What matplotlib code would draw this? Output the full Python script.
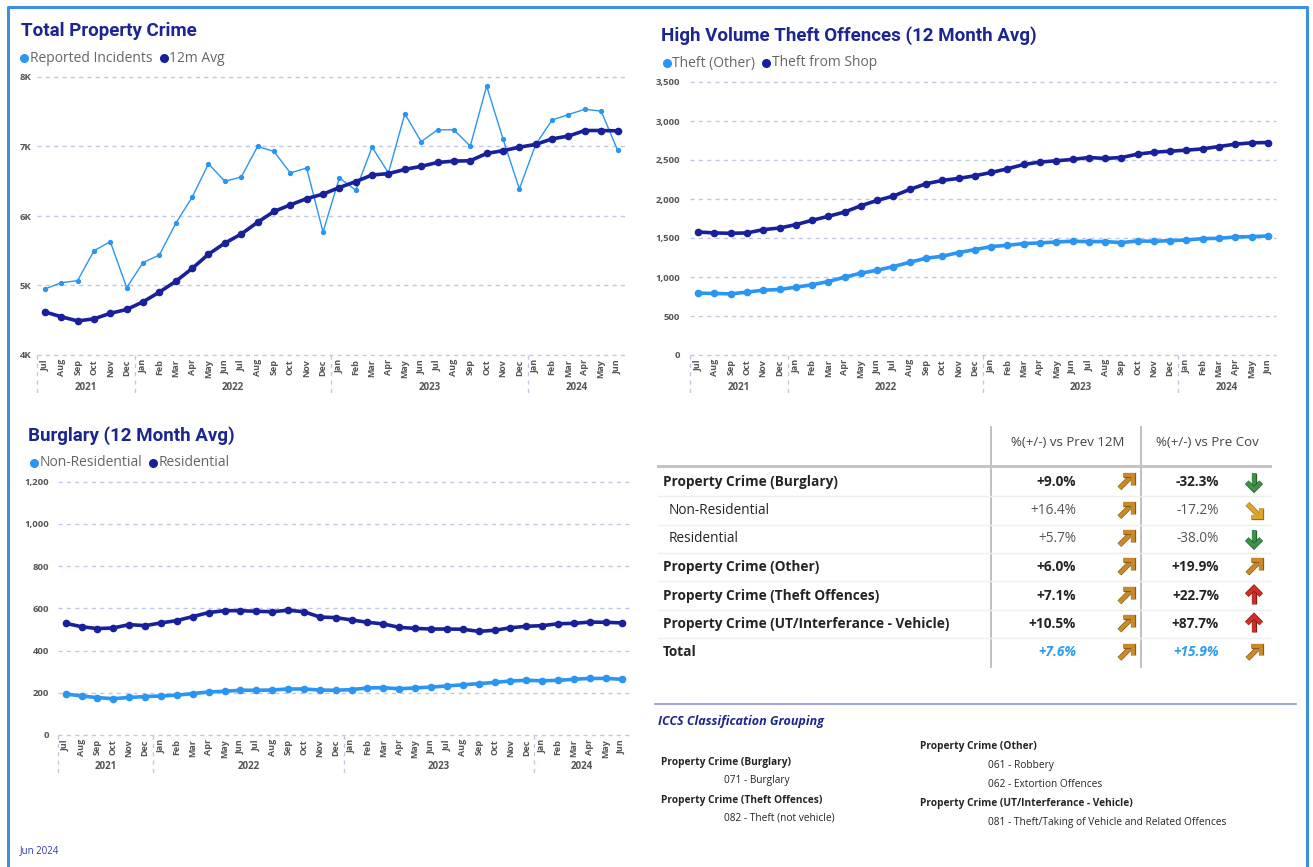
import matplotlib
matplotlib.use("Agg")
import matplotlib.pyplot as plt
from matplotlib.lines import Line2D
from matplotlib.transforms import blended_transform_factory
import matplotlib.patheffects as pe

# ---- data ----
months = ["Jul", "Aug", "Sep", "Oct", "Nov", "Dec",
          "Jan", "Feb", "Mar", "Apr", "May", "Jun", "Jul", "Aug", "Sep", "Oct", "Nov", "Dec",
          "Jan", "Feb", "Mar", "Apr", "May", "Jun", "Jul", "Aug", "Sep", "Oct", "Nov", "Dec",
          "Jan", "Feb", "Mar", "Apr", "May", "Jun"]
years = ["2021", "2022", "2023", "2024"]
year_start = [0, 6, 18, 30]
year_end = [5, 17, 29, 35]

reported = [4950, 5040, 5070, 5500, 5630, 4970, 5330, 5440, 5895, 6270, 6750, 6500,
            6560, 7000, 6930, 6620, 6690, 5770, 6550, 6370, 6990, 6620, 7470, 7070,
            7240, 7240, 7005, 7870, 7110, 6390, 7030, 7380, 7460, 7535, 7510, 6950]
avg12 = [4620, 4550, 4490, 4520, 4600, 4655, 4765, 4905, 5060, 5245, 5450, 5610,
         5740, 5910, 6065, 6160, 6250, 6315, 6410, 6495, 6590, 6610, 6670, 6715,
         6770, 6790, 6795, 6900, 6940, 6990, 7030, 7110, 7150, 7230, 7230, 7225]

theft_other = [793, 789, 784, 806, 831, 840, 870, 900, 942, 998, 1049, 1087,
               1134, 1189, 1241, 1266, 1313, 1351, 1390, 1407, 1428, 1437, 1449, 1458,
               1454, 1454, 1441, 1462, 1458, 1466, 1475, 1492, 1496, 1513, 1518, 1526]
theft_shop = [1577, 1565, 1560, 1565, 1607, 1628, 1671, 1727, 1778, 1833, 1914, 1982,
              2038, 2123, 2195, 2238, 2264, 2298, 2340, 2387, 2443, 2473, 2490, 2507,
              2532, 2520, 2532, 2575, 2600, 2613, 2626, 2643, 2673, 2703, 2720, 2724]

non_res = [194, 185, 177, 172, 178, 182, 185, 189, 196, 204, 207, 212,
           212, 213, 218, 218, 213, 212, 215, 223, 224, 219, 223, 227,
           232, 238, 243, 249, 256, 259, 257, 259, 264, 268, 268, 264]
res = [529, 513, 504, 507, 523, 518, 531, 542, 561, 580, 589, 589,
       586, 584, 591, 584, 559, 556, 545, 534, 526, 510, 505, 502,
       502, 501, 491, 496, 508, 515, 518, 527, 529, 535, 534, 531]

row_labels = ["Property Crime (Burglary)", "Non-Residential", "Residential",
              "Property Crime (Other)", "Property Crime (Theft Offences)",
              "Property Crime (UT/Interferance - Vehicle)", "Total"]
row_bold = [True, False, False, True, True, True, True]
vs_prev = ["+9.0%", "+16.4%", "+5.7%", "+6.0%", "+7.1%", "+10.5%", "+7.6%"]
vs_precov = ["-32.3%", "-17.2%", "-38.0%", "+19.9%", "+22.7%", "+87.7%", "+15.9%"]
prev_icon = ["ne", "ne", "ne", "ne", "ne", "ne", "ne"]
precov_icon = ["down", "se", "down", "ne", "up", "up", "ne"]

# ---- styling ----
W, H = 1313, 867
LIGHT = "#2b95f2"
DARK = "#19219a"
TITLE = "#1c2690"
GRID = "#c3c6ec"
TICK = "#555555"
TITLE_FONT = ["Roboto", "DejaVu Sans"]
UI_FONT = ["Open Sans", "DejaVu Sans"]

fig = plt.figure(figsize=(W / 100, H / 100), dpi=100, facecolor="white")


def fx(x):
    return x / W


def fy(y):
    return 1 - y / H


def add_axes(left, right, top, bottom):
    return fig.add_axes([fx(left), fy(bottom), fx(right - left), (bottom - top) / H])


def style_axes(ax, yticks, ylabels, pad, sep_depth, year_y):
    ax.set_xlim(-0.5, 35.5)
    ax.set_ylim(yticks[0], yticks[-1])
    for s in ax.spines.values():
        s.set_visible(False)
    for t in yticks:
        ax.axhline(t, color=GRID, lw=1.0, ls=(0, (3, 3)), clip_on=False, zorder=0)
    ax.set_yticks(yticks)
    ax.set_yticklabels(ylabels, fontsize=6.8, fontweight="bold", color=TICK, family=UI_FONT)
    ax.tick_params(axis="y", length=0, pad=pad)
    ax.set_xticks(range(36))
    ax.set_xticklabels(months, rotation=90, fontsize=6.5, fontweight="bold", color=TICK,
                       family=UI_FONT)
    ax.tick_params(axis="x", length=0, pad=3)
    tr = blended_transform_factory(ax.transData, ax.transAxes)
    for s in [-0.5, 5.5, 17.5, 29.5]:
        ax.plot([s, s], [0, -sep_depth], color=GRID, lw=1.0, ls=(0, (3, 3)),
                transform=tr, clip_on=False)
    for yname, a, b in zip(years, year_start, year_end):
        ax.text((a + b) / 2, -year_y, yname, transform=tr, ha="center", va="center",
                fontsize=7, fontweight="bold", color=TICK, family=UI_FONT)


def legend(items):
    for x, y, c, label in items:
        fig.add_artist(Line2D([fx(x)], [fy(y)], marker="o", ms=5.5, color=c,
                              transform=fig.transFigure))
        fig.text(fx(x + 5.5), fy(y), label, fontsize=10, color="#666666", va="center",
                 ha="left", family=UI_FONT)


# arrow shapes in pixel offsets (x right, y down): stem, head
ARROWS = {
    "ne": ([(-5.5, 5.5), (5, -5)], [(-2.5, -5.5), (5.5, -5.5), (5.5, 2.5)]),
    "se": ([(-5.5, -5.5), (5, 5)], [(5.5, -2.5), (5.5, 5.5), (-2.5, 5.5)]),
    "down": ([(0, -7), (0, 6)], [(-6, 0.5), (0, 6.5), (6, 0.5)]),
    "up": ([(0, 7), (0, -6)], [(-6, -0.5), (0, -6.5), (6, -0.5)]),
}
ICON_COLORS = {"ne": ("#c98a2a", "#8a5c16"), "se": ("#e0a52e", "#a07018"),
               "down": ("#3f9048", "#245c2a"), "up": ("#cc3028", "#7e1a14")}
ICON_SCALE = 1.2


def draw_icon(cx, cy, key):
    c, edge = ICON_COLORS[key]
    for part in ARROWS[key]:
        xs = [fx(cx + dx * ICON_SCALE) for dx, dy in part]
        ys = [fy(cy + dy * ICON_SCALE) for dx, dy in part]
        fig.add_artist(Line2D(xs, ys, color=c, lw=2.8, solid_capstyle="butt",
                              solid_joinstyle="miter", transform=fig.transFigure,
                              path_effects=[pe.Stroke(linewidth=3.8, foreground=edge),
                                            pe.Normal()]))


# ---- border ----
fig.add_artist(Line2D([fx(8), fx(8), fx(1307), fx(1307)], [fy(870), fy(7), fy(7), fy(870)],
                      color="#3f8fe0", lw=2.2, transform=fig.transFigure))

# ---- chart 1: Total Property Crime ----
ax1 = add_axes(36.7, 625.7, 77, 355)
ax1.plot(range(36), reported, color=LIGHT, lw=1.0, marker="o", ms=2.8, zorder=3)
ax1.plot(range(36), avg12, color=DARK, lw=2.6, marker="o", ms=4.5, zorder=4)
style_axes(ax1, [4000, 5000, 6000, 7000, 8000], ["4K", "5K", "6K", "7K", "8K"],
           4, 40 / 278, 32 / 278)
fig.text(fx(21), fy(31), "Total Property Crime", fontsize=13.5, fontweight="bold",
         color=TITLE, va="center", family=TITLE_FONT)
legend([(24, 58, LIGHT, "Reported Incidents"), (164, 58, DARK, "12m Avg")])

# ---- chart 2: High Volume Theft ----
ax2 = add_axes(690, 1276, 82, 355)
ax2.plot(range(36), theft_other, color=LIGHT, lw=2.6, marker="o", ms=4.5, zorder=3)
ax2.plot(range(36), theft_shop, color=DARK, lw=2.6, marker="o", ms=4.5, zorder=4)
t2 = [0, 500, 1000, 1500, 2000, 2500, 3000, 3500]
style_axes(ax2, t2, [f"{v:,}" for v in t2], 7, 40 / 273, 32 / 273)
fig.text(fx(661), fy(36), "High Volume Theft Offences (12 Month Avg)", fontsize=13.5,
         fontweight="bold", color=TITLE, va="center", family=TITLE_FONT)
legend([(667, 63, LIGHT, "Theft (Other)"), (766, 63, DARK, "Theft from Shop")])

# ---- chart 3: Burglary ----
ax3 = add_axes(57.7, 629.6, 481.7, 735)
ax3.plot(range(36), non_res, color=LIGHT, lw=2.6, marker="o", ms=4.5, zorder=3)
ax3.plot(range(36), res, color=DARK, lw=2.6, marker="o", ms=4.5, zorder=4)
t3 = [0, 200, 400, 600, 800, 1000, 1200]
style_axes(ax3, t3, [f"{v:,}" for v in t3], 6, 39 / 253, 31.7 / 253)
fig.text(fx(28), fy(436), "Burglary (12 Month Avg)", fontsize=13.5, fontweight="bold",
         color=TITLE, va="center", family=TITLE_FONT)
legend([(34, 463, LIGHT, "Non-Residential"), (153, 463, DARK, "Residential")])

# ---- table ----
fig.text(fx(1068), fy(443), "%(+/-) vs Prev 12M", fontsize=9.5, color="#444444",
         ha="center", va="center", family=UI_FONT)
fig.text(fx(1207), fy(443), "%(+/-) vs Pre Cov", fontsize=9.5, color="#444444",
         ha="center", va="center", family=UI_FONT)
for xv in [991, 1141]:
    fig.add_artist(Line2D([fx(xv), fx(xv)], [fy(427), fy(667)], color="#b5b5b5", lw=1.2,
                          transform=fig.transFigure))
fig.add_artist(Line2D([fx(658), fx(1270)], [fy(466), fy(466)], color="#c4c4c4", lw=2.2,
                      transform=fig.transFigure))

row_y = [481.7, 510.5, 538.5, 567, 595.7, 624, 652.3]
for i, y in enumerate(row_y):
    bold = "bold" if row_bold[i] else "normal"
    lx = 663 if row_bold[i] else 669
    fig.text(fx(lx), fy(y), row_labels[i], fontsize=9.8, fontweight=bold,
             color="#252423", va="center", family=UI_FONT)
    is_total = row_labels[i] == "Total"
    vc = "#2d9bf0" if is_total else ("#252423" if row_bold[i] else "#555555")
    style = "italic" if is_total else "normal"
    fig.text(fx(1076), fy(y), vs_prev[i], fontsize=9.8, fontweight=bold, color=vc,
             ha="right", va="center", style=style, family=UI_FONT)
    fig.text(fx(1219), fy(y), vs_precov[i], fontsize=9.8, fontweight=bold, color=vc,
             ha="right", va="center", style=style, family=UI_FONT)
    draw_icon(1126, y, prev_icon[i])
    draw_icon(1254, y, precov_icon[i])
    if i < len(row_y) - 1:
        ys = (y + row_y[i + 1]) / 2
        fig.add_artist(Line2D([fx(658), fx(1270)], [fy(ys), fy(ys)], color="#eeeeee",
                              lw=1.0, transform=fig.transFigure))

# ---- ICCS grouping ----
fig.add_artist(Line2D([fx(655), fx(1296)], [fy(704), fy(704)], color="#8d92e2", lw=1.2,
                      transform=fig.transFigure))
fig.text(fx(658), fy(721), "ICCS Classification Grouping", fontsize=9,
         fontweight="bold", style="italic", color=TITLE, va="center", family=UI_FONT)
iccs_left = [(661, 762.5, "Property Crime (Burglary)", True),
             (724, 781, "071 - Burglary", False),
             (661, 800, "Property Crime (Theft Offences)", True),
             (724, 818.5, "082 - Theft (not vehicle)", False)]
iccs_right = [(920, 746.5, "Property Crime (Other)", True),
              (988, 765.5, "061 - Robbery", False),
              (988, 784.5, "062 - Extortion Offences", False),
              (920, 803.5, "Property Crime (UT/Interferance - Vehicle)", True),
              (988, 822.5, "081 - Theft/Taking of Vehicle and Related Offences", False)]
for x, y, s, b in iccs_left + iccs_right:
    fig.text(fx(x), fy(y), s, fontsize=7.3, fontweight="bold" if b else "normal",
             color="#252423", va="center", family=UI_FONT)

fig.text(fx(20), fy(851), "Jun 2024", fontsize=7, color="#2b3cae", va="center",
         family=UI_FONT)

fig.savefig("out.png", dpi=100, facecolor="white")
